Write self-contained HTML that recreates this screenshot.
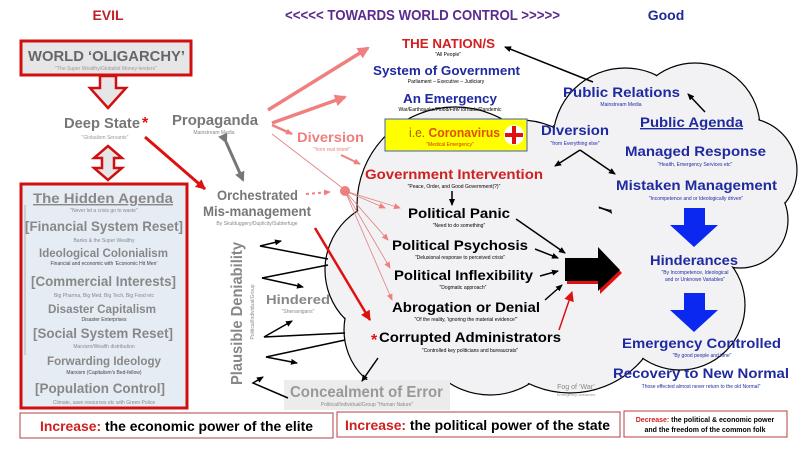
<!DOCTYPE html>
<html><head><meta charset="utf-8"><style>
html,body{margin:0;padding:0;background:#fff;}
svg{display:block;font-family:"Liberation Sans",sans-serif;}
.b{font-weight:bold;}
</style></head><body>
<svg width="800" height="450" viewBox="0 0 800 450" xmlns="http://www.w3.org/2000/svg">
<defs>
<marker id="ak" markerWidth="8" markerHeight="8" refX="6" refY="3" orient="auto" markerUnits="userSpaceOnUse"><path d="M0,0 L7,3 L0,6 z" fill="#000"/></marker>
<marker id="ar" markerWidth="12" markerHeight="12" refX="9" refY="5" orient="auto" markerUnits="userSpaceOnUse"><path d="M0,0 L10,5 L0,10 z" fill="#e01010"/></marker>
<marker id="as" markerWidth="14" markerHeight="14" refX="10" refY="6" orient="auto" markerUnits="userSpaceOnUse"><path d="M0,0 L12,6 L0,12 z" fill="#f08080"/></marker>
<marker id="as2" markerWidth="8" markerHeight="8" refX="6" refY="3" orient="auto" markerUnits="userSpaceOnUse"><path d="M0,0 L7,3 L0,6 z" fill="#ee8080"/></marker>
<marker id="ag" markerWidth="12" markerHeight="12" refX="8" refY="5" orient="auto" markerUnits="userSpaceOnUse"><path d="M0,0 L10,5 L0,10 z" fill="#777"/></marker>
</defs>

<g stroke="#000" stroke-width="1.2" fill="#f2f2f4">
<circle cx="455" cy="205" r="98"/><circle cx="395" cy="270" r="70"/><circle cx="410" cy="330" r="66"/>
<circle cx="490" cy="320" r="75"/><circle cx="570" cy="298" r="95"/><circle cx="520" cy="200" r="80"/>
<circle cx="625" cy="140" r="72"/><circle cx="695" cy="128" r="65"/><circle cx="745" cy="170" r="52"/>
<circle cx="740" cy="220" r="48"/><circle cx="680" cy="200" r="70"/><circle cx="680" cy="305" r="65"/>
</g>
<g fill="#f2f2f4">
<circle cx="455" cy="205" r="97"/><circle cx="395" cy="270" r="69"/><circle cx="410" cy="330" r="65"/>
<circle cx="490" cy="320" r="74"/><circle cx="570" cy="298" r="94"/><circle cx="520" cy="200" r="79"/>
<circle cx="625" cy="140" r="71"/><circle cx="695" cy="128" r="64"/><circle cx="745" cy="170" r="51"/>
<circle cx="740" cy="220" r="47"/><circle cx="680" cy="200" r="69"/><circle cx="680" cy="305" r="64"/>
</g>

<text x="108" y="20" class="b" font-size="14" fill="#c0202a" text-anchor="middle">EVIL</text>
<text x="285" y="20" class="b" font-size="15" fill="#5b2a8f" textLength="275" lengthAdjust="spacingAndGlyphs">&lt;&lt;&lt;&lt;&lt;  TOWARDS WORLD CONTROL  &gt;&gt;&gt;&gt;&gt;</text>
<text x="666" y="20" class="b" font-size="14" fill="#1f2a9a" text-anchor="middle">Good</text>

<rect x="21" y="41" width="170" height="34" fill="#e6e6e8" stroke="#d01010" stroke-width="3"/>
<text x="28" y="61" class="b" font-size="15" fill="#666" textLength="157" lengthAdjust="spacingAndGlyphs">WORLD ‘OLIGARCHY’</text>
<text x="106" y="70" font-size="5" fill="#999" text-anchor="middle">"The Super Wealthy/Globalist Money-lenders"</text>
<path d="M100,76 L116,76 L116,88 L126,88 L108,108 L90,88 L100,88 Z" fill="#e6e6e8" stroke="#d01010" stroke-width="2.5"/>
<text x="64" y="128" class="b" font-size="15" fill="#777" textLength="76" lengthAdjust="spacingAndGlyphs">Deep State</text>
<text x="142" y="128" class="b" font-size="16" fill="#e01010">*</text>
<text x="105" y="139" font-size="5" fill="#999" text-anchor="middle">"Globalism Servants"</text>
<path d="M108,146 L122,158 L114,158 L114,168 L122,168 L108,180 L94,168 L102,168 L102,158 L94,158 Z" fill="#e6e6e8" stroke="#d01010" stroke-width="2.5"/>

<rect x="21" y="184" width="166" height="224" fill="#e6ecf4" stroke="#d01010" stroke-width="3"/>
<g fill="#888">
<text x="33" y="203" class="b" font-size="14" text-decoration="underline" textLength="140" lengthAdjust="spacingAndGlyphs">The Hidden Agenda</text>
<text x="25" y="231" class="b" font-size="14" textLength="158" lengthAdjust="spacingAndGlyphs">[Financial System Reset]</text>
<text x="39" y="257" class="b" font-size="12" textLength="129" lengthAdjust="spacingAndGlyphs">Ideological Colonialism</text>
<text x="31" y="286" class="b" font-size="14" textLength="145" lengthAdjust="spacingAndGlyphs">[Commercial Interests]</text>
<text x="48" y="313" class="b" font-size="12" textLength="108" lengthAdjust="spacingAndGlyphs">Disaster Capitalism</text>
<text x="33" y="338" class="b" font-size="14" textLength="140" lengthAdjust="spacingAndGlyphs">[Social System Reset]</text>
<text x="47" y="365" class="b" font-size="12" textLength="114" lengthAdjust="spacingAndGlyphs">Forwarding Ideology</text>
<text x="35" y="393" class="b" font-size="14" textLength="130" lengthAdjust="spacingAndGlyphs">[Population Control]</text>
</g>
<g fill="#888" text-anchor="middle">
<text x="104" y="212" font-size="5">"Never let a crisis go to waste"</text>
<text x="104" y="242" font-size="5">Banks &amp; the Super Wealthy</text>
<text x="104" y="265" font-size="5" fill="#444">Financial and economic with ‘Economic Hit Men’</text>
<text x="104" y="297" font-size="5">Big Pharma, Big Med, Big Tech, Big Food etc</text>
<text x="104" y="321" font-size="5" fill="#444">Disaster Enterprises</text>
<text x="104" y="348" font-size="5">Marxism/Wealth distribution</text>
<text x="104" y="374" font-size="5" fill="#444">Marxism (Capitalism's Bed-fellow)</text>
<text x="104" y="404" font-size="5">Climate, save resources etc with Green Police</text>
</g>
<line x1="25" y1="205" x2="25" y2="355" stroke="#888" stroke-width="0.6"/>

<rect x="20" y="413" width="313" height="25" fill="#fff" stroke="#b04040" stroke-width="1"/>
<text x="40" y="431" class="b" font-size="14" textLength="273" lengthAdjust="spacingAndGlyphs"><tspan fill="#d02020">Increase:</tspan> the economic power of the elite</text>
<rect x="337" y="412" width="283" height="25" fill="#fff" stroke="#b04040" stroke-width="1"/>
<text x="345" y="430" class="b" font-size="14" textLength="265" lengthAdjust="spacingAndGlyphs"><tspan fill="#d02020">Increase:</tspan> the political power of the state</text>
<rect x="624" y="411" width="163" height="26" fill="#fff" stroke="#b04040" stroke-width="1"/>
<text x="705" y="422" class="b" font-size="7" text-anchor="middle"><tspan fill="#d02020">Decrease:</tspan> the political &amp; economic power</text>
<text x="705" y="432" class="b" font-size="7" text-anchor="middle">and the freedom of the common folk</text>

<text x="172" y="125" class="b" font-size="15" fill="#777" textLength="86" lengthAdjust="spacingAndGlyphs">Propaganda</text>
<text x="214" y="134" font-size="5" fill="#888" text-anchor="middle">Mainstream Media</text>
<text x="297" y="142" class="b" font-size="14" fill="#ee8080" textLength="67" lengthAdjust="spacingAndGlyphs">Diversion</text>
<text x="332" y="151" font-size="5" fill="#ee8080" text-anchor="middle">"from real intent"</text>
<text x="217" y="200" class="b" font-size="14" fill="#777" textLength="81" lengthAdjust="spacingAndGlyphs">Orchestrated</text>
<text x="203" y="216" class="b" font-size="14" fill="#777" textLength="108" lengthAdjust="spacingAndGlyphs">Mis-management</text>
<text x="257" y="225" font-size="5" fill="#888" text-anchor="middle">By Skulduggery/Duplicity/Subterfuge</text>
<text transform="translate(242,385) rotate(-90)" class="b" font-size="16" fill="#888" textLength="143" lengthAdjust="spacingAndGlyphs">Plausible Deniability</text>
<text transform="translate(254,312) rotate(-90)" font-size="5" fill="#888" text-anchor="middle">Political/Individual/Group</text>
<text x="266" y="304" class="b" font-size="13" fill="#888" textLength="64" lengthAdjust="spacingAndGlyphs">Hindered</text>
<text x="298" y="313" font-size="5" fill="#888" text-anchor="middle">"Shenanigans"</text>
<rect x="284" y="380" width="166" height="30" fill="#ececec"/>
<text x="290" y="397" class="b" font-size="16" fill="#999" textLength="153" lengthAdjust="spacingAndGlyphs">Concealment of Error</text>
<text x="367" y="406" font-size="5" fill="#888" text-anchor="middle">Political/Individual/Group "Human Nature"</text>

<line x1="268" y1="110" x2="368" y2="48" stroke="#f08080" stroke-width="3.5" marker-end="url(#as)"/>
<line x1="272" y1="123" x2="345" y2="97" stroke="#f08080" stroke-width="3.5" marker-end="url(#as)"/>
<line x1="272" y1="125" x2="292" y2="134" stroke="#f08080" stroke-width="2.5" marker-end="url(#as2)"/>
<line x1="341" y1="155" x2="360" y2="164" stroke="#f08080" stroke-width="2" marker-end="url(#as2)"/>
<line x1="272" y1="134" x2="345" y2="190" stroke="#e08080" stroke-width="0.8"/>
<circle cx="345" cy="191" r="5" fill="#f08080"/>
<g stroke="#e08080" stroke-width="0.8" marker-end="url(#as2)">
<line x1="345" y1="191" x2="400" y2="208"/>
<line x1="345" y1="191" x2="388" y2="240"/>
<line x1="345" y1="191" x2="390" y2="268"/>
<line x1="345" y1="191" x2="392" y2="300"/>
<line x1="345" y1="191" x2="385" y2="208"/>
</g>
<line x1="306" y1="194" x2="330" y2="192" stroke="#f08080" stroke-width="2" stroke-dasharray="3,3" marker-end="url(#as2)"/>
<line x1="145" y1="137" x2="205" y2="189" stroke="#e01010" stroke-width="3" marker-end="url(#ar)"/>
<line x1="315" y1="228" x2="370" y2="320" stroke="#e01010" stroke-width="2.5" marker-end="url(#ar)"/>
<line x1="226" y1="142" x2="243" y2="180" stroke="#777" stroke-width="3" marker-end="url(#ag)" marker-start="url(#ag)"/>

<g stroke="#000" stroke-width="1.5" fill="none" marker-end="url(#ak)">
<polyline points="328,259 260,246 281,241"/>
<polyline points="328,265 262,278 303,287"/>
<polyline points="345,333 264,337 292,321"/>
<polyline points="345,340 266,357 297,363"/>
<polyline points="288,398 253,383 263,377"/>
<line x1="593" y1="82" x2="505" y2="47"/>
<line x1="705" y1="112" x2="688" y2="94"/>
<line x1="580" y1="150" x2="555" y2="166"/>
<line x1="580" y1="150" x2="615" y2="174"/>
<line x1="452" y1="191" x2="452" y2="205"/>
<line x1="516" y1="219" x2="565" y2="253"/>
<line x1="535" y1="249" x2="558" y2="258"/>
<line x1="540" y1="276" x2="558" y2="271"/>
<line x1="545" y1="300" x2="562" y2="285"/>
<line x1="378" y1="358" x2="362" y2="381"/>
</g>
<line x1="559" y1="330" x2="572" y2="292" stroke="#e01010" stroke-width="1.5" marker-end="url(#ar)"/>

<text x="402" y="48" class="b" font-size="13" fill="#d02020" textLength="93" lengthAdjust="spacingAndGlyphs">THE NATION/S</text>
<text x="448" y="56" font-size="5" text-anchor="middle">"All People"</text>
<text x="373" y="75" class="b" font-size="13" fill="#1f2aa0" textLength="147" lengthAdjust="spacingAndGlyphs">System of Government</text>
<text x="446" y="83" font-size="5" text-anchor="middle">Parliament – Executive – Judiciary</text>
<text x="403" y="103" class="b" font-size="13" fill="#1f2aa0" textLength="94" lengthAdjust="spacingAndGlyphs">An Emergency</text>
<text x="450" y="111" font-size="5" text-anchor="middle">War/Earthquake/Flood/Fire/Tornado/Pandemic</text>
<rect x="385" y="119" width="142" height="32" fill="#ffff00" stroke="#4060b0" stroke-width="1"/>
<text x="409" y="137" class="b" font-size="13" fill="#e05000" textLength="91" lengthAdjust="spacingAndGlyphs"><tspan font-weight="normal" fill="#a06000">i.e. </tspan>Coronavirus</text>
<text x="450" y="146" font-size="5" fill="#d03000" text-anchor="middle">"Medical Emergency"</text>
<circle cx="514" cy="135" r="10" fill="#fff"/>
<rect x="505" y="133" width="18" height="4" fill="#e01010"/><rect x="512" y="126" width="4" height="18" fill="#e01010"/>
<text x="365" y="179" class="b" font-size="14" fill="#d02020" textLength="178" lengthAdjust="spacingAndGlyphs">Government Intervention</text>
<text x="454" y="188" font-size="5" text-anchor="middle">"Peace, Order, and Good Government(?)"</text>
<text x="408" y="218" class="b" font-size="14" textLength="102" lengthAdjust="spacingAndGlyphs">Political Panic</text>
<text x="459" y="227" font-size="5" text-anchor="middle">"Need to do something"</text>
<text x="392" y="250" class="b" font-size="14" textLength="136" lengthAdjust="spacingAndGlyphs">Political Psychosis</text>
<text x="460" y="259" font-size="5" text-anchor="middle">"Delusional response to perceived crisis"</text>
<text x="394" y="280" class="b" font-size="14" textLength="139" lengthAdjust="spacingAndGlyphs">Political Inflexibility</text>
<text x="463" y="289" font-size="5" text-anchor="middle">"Dogmatic approach"</text>
<text x="392" y="312" class="b" font-size="14" textLength="148" lengthAdjust="spacingAndGlyphs">Abrogation or Denial</text>
<text x="466" y="321" font-size="5" text-anchor="middle">"Of the reality, 'ignoring the material evidence'"</text>
<text x="371" y="345" class="b" font-size="16" fill="#e01010">*</text>
<text x="379" y="342" class="b" font-size="14" textLength="182" lengthAdjust="spacingAndGlyphs">Corrupted Administrators</text>
<text x="470" y="352" font-size="5" text-anchor="middle">"Controlled key politicians and bureaucrats"</text>
<text x="576" y="389" font-size="7" fill="#888" text-anchor="middle">Fog of ‘War’</text>
<text x="576" y="396" font-size="4" fill="#999" text-anchor="middle">Emergency-obstacles</text>

<path d="M567,261 L600,261 L600,250 L622,273 L600,294 L600,284 L567,284 Z" fill="#e01010"/>
<path d="M565,258 L598,258 L598,247 L620,270 L598,291 L598,281 L565,281 Z" fill="#000"/>

<text x="563" y="97" class="b" font-size="14" fill="#1f2aa0" textLength="117" lengthAdjust="spacingAndGlyphs">Public Relations</text>
<text x="621" y="106" font-size="5" fill="#1f2aa0" text-anchor="middle">Mainstream Media</text>
<text x="640" y="127" class="b" font-size="14" fill="#1f2aa0" text-decoration="underline" textLength="103" lengthAdjust="spacingAndGlyphs">Public Agenda</text>
<text x="541" y="135" class="b" font-size="14" fill="#1f2aa0" textLength="68" lengthAdjust="spacingAndGlyphs">Diversion</text>
<text x="575" y="145" font-size="5" fill="#1f2aa0" text-anchor="middle">"from Everything else"</text>
<text x="625" y="156" class="b" font-size="14" fill="#1f2aa0" textLength="141" lengthAdjust="spacingAndGlyphs">Managed Response</text>
<text x="695" y="166" font-size="5" fill="#1f2aa0" text-anchor="middle">"Health, Emergency Services etc"</text>
<text x="616" y="190" class="b" font-size="14" fill="#1f2aa0" textLength="161" lengthAdjust="spacingAndGlyphs">Mistaken Management</text>
<text x="696" y="200" font-size="5" fill="#1f2aa0" text-anchor="middle">"Incompetence and or Ideologically driven"</text>
<path d="M684,208 L705,208 L705,225 L718,225 L694,247 L670,225 L684,225 Z" fill="#0a28f0"/>
<text x="650" y="265" class="b" font-size="14" fill="#1f2aa0" textLength="88" lengthAdjust="spacingAndGlyphs">Hinderances</text>
<text x="695" y="274" font-size="5" fill="#1f2aa0" text-anchor="middle">"By Incompetence, Ideological</text>
<text x="695" y="281" font-size="5" fill="#1f2aa0" text-anchor="middle">and or Unknown Variables"</text>
<path d="M684,293 L705,293 L705,310 L718,310 L694,332 L670,310 L684,310 Z" fill="#0a28f0"/>
<text x="622" y="348" class="b" font-size="14" fill="#1f2aa0" textLength="159" lengthAdjust="spacingAndGlyphs">Emergency Controlled</text>
<text x="702" y="357" font-size="5" fill="#1f2aa0" text-anchor="middle">"By good people and time"</text>
<text x="613" y="378" class="b" font-size="14" fill="#1f2aa0" textLength="176" lengthAdjust="spacingAndGlyphs">Recovery to New Normal</text>
<text x="701" y="388" font-size="5" fill="#1f2aa0" text-anchor="middle">Those effected almost never return to the old Normal"</text>
</svg>
</body></html>
